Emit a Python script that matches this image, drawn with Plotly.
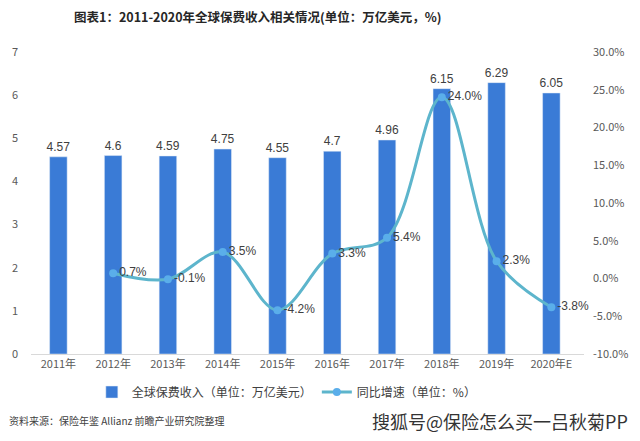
import plotly.graph_objects as go

categories = ["2011年", "2012年", "2013年", "2014年", "2015年", "2016年", "2017年", "2018年", "2019年", "2020年E"]
premium = [4.57, 4.6, 4.59, 4.75, 4.55, 4.7, 4.96, 6.15, 6.29, 6.05]
growth_cats = categories[1:]
growth = [0.7, -0.1, 3.5, -4.2, 3.3, 5.4, 24.0, 2.3, -3.8]
right_ticks = [-10, -5, 0, 5, 10, 15, 20, 25, 30]

FONT = "Noto Sans CJK SC, Liberation Sans, sans-serif"

fig = go.Figure()
fig.add_trace(go.Bar(
    x=categories, y=premium, name="全球保费收入（单位：万亿美元）",
    marker=dict(color="#3a7bd6"),
    text=[f"{v:g}" for v in premium], textposition="outside", constraintext="none",
    textfont=dict(size=12, color="#404040", family="Liberation Sans, sans-serif"),
    cliponaxis=False,
))
fig.add_trace(go.Scatter(
    x=growth_cats, y=growth, yaxis="y2", name="同比增速（单位：%）",
    mode="lines+markers+text",
    line=dict(color="#5db5cc", width=3, shape="spline", smoothing=1.0),
    marker=dict(color="#5aaeea", size=8),
    text=[f"{v:.1f}%" for v in growth], textposition="middle right",
    textfont=dict(size=12, color="#404040", family="Liberation Sans, sans-serif"),
    cliponaxis=False,
))

fig.update_layout(
    width=640, height=441,
    margin=dict(l=29, r=49, t=52, b=87),
    paper_bgcolor="white", plot_bgcolor="white",
    font=dict(family=FONT, color="#595959", size=11),
    bargap=0.68,
    showlegend=True,
    legend=dict(orientation="h", x=0.11, xanchor="left", y=-0.126, yanchor="middle",
                font=dict(size=12, color="#404040"), itemwidth=30, traceorder="normal"),
    xaxis=dict(showline=True, linecolor="#d9d9d9", linewidth=1, ticks="",
               tickfont=dict(size=11, color="#595959"), showgrid=False),
    yaxis=dict(range=[0, 7], dtick=1, showgrid=False, zeroline=False, ticks="",
               ticklabelstandoff=12, tickfont=dict(size=11, color="#595959")),
    yaxis2=dict(range=[-10, 30], overlaying="y", side="right", showgrid=False, zeroline=False,
                tickvals=right_ticks, ticktext=[f"{v:.1f}%" for v in right_ticks],
                ticks="", ticklabelstandoff=8, tickfont=dict(size=11, color="#595959")),
    annotations=[
        dict(text="<b>图表1：2011-2020年全球保费收入相关情况(单位：万亿美元，%)</b>",
             xref="paper", yref="paper", x=0.411, y=(354-17)/302, xanchor="center", yanchor="middle",
             showarrow=False, font=dict(size=12.5, color="#262626", family=FONT)),
        dict(text="资料来源：保险年鉴 Allianz 前瞻产业研究院整理",
             xref="paper", yref="paper", x=(5-29)/562, y=(354-420)/302, xanchor="left", yanchor="middle",
             showarrow=False, font=dict(size=10, color="#404040", family=FONT)),
        dict(text="搜狐号@保险怎么买一吕秋菊PP",
             xref="paper", yref="paper", x=(638-29)/562, y=(354-421)/302, xanchor="right", yanchor="middle",
             showarrow=False, font=dict(size=18, color="#333333", family=FONT)),
    ],
)

fig.write_html("out.html")
